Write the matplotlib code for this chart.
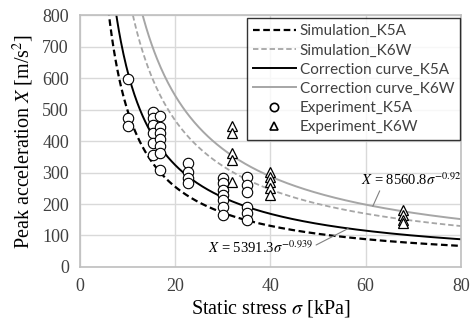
import numpy as np
import matplotlib.pyplot as plt
from matplotlib.lines import Line2D

plt.rcParams['font.family'] = 'Liberation Serif'
plt.rcParams['mathtext.fontset'] = 'stix'

# power-law curves X = a * sigma^b
sim_k5a = (4556.0, -0.963)
sim_k6w = (7322.0, -0.92)
corr_k5a = (5391.3, -0.939)
corr_k6w = (8560.8, -0.92)

# experiment K5A
exp_k5a_sigma = [10.1, 10.1, 10.1,
                 15.4, 15.4, 15.4, 15.4, 15.4, 15.4,
                 16.8, 16.8, 16.8, 16.8, 16.8, 16.8, 16.8,
                 22.7, 22.7, 22.7, 22.7,
                 30.1, 30.1, 30.1, 30.1, 30.1, 30.1, 30.1,
                 35.0, 35.0, 35.0, 35.0, 35.0, 35.0]
exp_k5a_x = [597, 473, 448,
             493, 473, 451, 425, 395, 355,
             479, 445, 425, 406, 384, 362, 308,
             330, 302, 283, 267,
             283, 267, 245, 229, 213, 190, 165,
             287, 260, 239, 191, 171, 149]

# experiment K6W
exp_k6w_sigma = [32.0, 32.0, 32.0, 32.0, 32.0,
                 39.9, 39.9, 39.9, 39.9, 39.9,
                 67.9, 67.9, 67.9, 67.9]
exp_k6w_x = [448, 425, 361, 340, 271,
             303, 287, 271, 250, 229,
             181, 165, 149, 140]

fig = plt.figure(figsize=(4.72, 3.23), dpi=100)
ax = fig.add_axes([0.1695, 0.1734, 0.807, 0.780])

s = np.linspace(4, 80, 400)
ax.plot(s, sim_k5a[0] * s ** sim_k5a[1], color='black', lw=1.6, ls=(0, (3, 1.6)))
ax.plot(s, sim_k6w[0] * s ** sim_k6w[1], color='#a6a6a6', lw=1.3, ls=(0, (3, 1.6)))
ax.plot(s, corr_k5a[0] * s ** corr_k5a[1], color='black', lw=1.4)
ax.plot(s, corr_k6w[0] * s ** corr_k6w[1], color='#a6a6a6', lw=1.4)

ax.plot(exp_k5a_sigma, exp_k5a_x, 'o', ms=7.5, mfc='white', mec='black', mew=0.8, ls='none')
ax.plot(exp_k6w_sigma, exp_k6w_x, '^', ms=7, mfc='white', mec='black', mew=0.9, ls='none')

ax.set_xlim(0, 80)
ax.set_ylim(0, 800)
ax.set_xticks([0, 20, 40, 60, 80])
ax.set_yticks(range(0, 801, 100))
ax.grid(True, color='#d9d9d9', lw=1)
ax.set_axisbelow(True)
for sp in ax.spines.values():
    sp.set_color('#bfbfbf')
    sp.set_linewidth(1.2)
ax.tick_params(length=0, labelsize=13, colors='#404040', pad=8)
for lab in ax.get_xticklabels() + ax.get_yticklabels():
    lab.set_color('#404040')

ax.set_xlabel(r'Static stress $\sigma$ [kPa]', fontsize=14.5, labelpad=2)
ax.set_ylabel(r'Peak acceleration $X$ [m/s$^2$]', fontsize=14.5, labelpad=4)

# equation labels
ax.annotate(r'$X$ = 8560.8$\sigma^{-0.92}$', xy=(61.5, 193), xytext=(59.0, 277),
            fontsize=10.5, ha='left', va='center',
            arrowprops=dict(arrowstyle='-', color='#808080', lw=0.8, shrinkA=0, shrinkB=0,
                            relpos=(0.2, 0.0)))
ax.annotate(r'$X$ = 5391.3$\sigma^{-0.939}$', xy=(56.3, 122), xytext=(49.0, 60),
            fontsize=10.5, ha='right', va='center',
            arrowprops=dict(arrowstyle='-', color='#808080', lw=0.8, shrinkA=0, shrinkB=0,
                            relpos=(1.0, 0.6)))

handles = [
    Line2D([], [], color='black', lw=1.6, ls=(0, (3, 1.6))),
    Line2D([], [], color='#a6a6a6', lw=1.3, ls=(0, (3, 1.6))),
    Line2D([], [], color='black', lw=1.4),
    Line2D([], [], color='#a6a6a6', lw=1.4),
    Line2D([], [], marker='o', ms=6, mfc='white', mec='black', mew=1.2, ls='none'),
    Line2D([], [], marker='^', ms=6, mfc='white', mec='black', mew=1.2, ls='none'),
]
labels = ['Simulation_K5A', 'Simulation_K6W', 'Correction curve_K5A',
          'Correction curve_K6W', 'Experiment_K5A', 'Experiment_K6W']
leg = ax.legend(handles, labels, loc='upper right', bbox_to_anchor=(0.998, 0.988),
                prop={'family': 'Lato', 'size': 11}, frameon=True, fancybox=False,
                handlelength=2.8, handletextpad=0.25, labelspacing=0.34,
                borderpad=0.4, borderaxespad=0)
leg.get_frame().set_edgecolor('black')
leg.get_frame().set_linewidth(1.0)
for t in leg.get_texts():
    t.set_color('#404040')

fig.savefig('out.png', dpi=100)
